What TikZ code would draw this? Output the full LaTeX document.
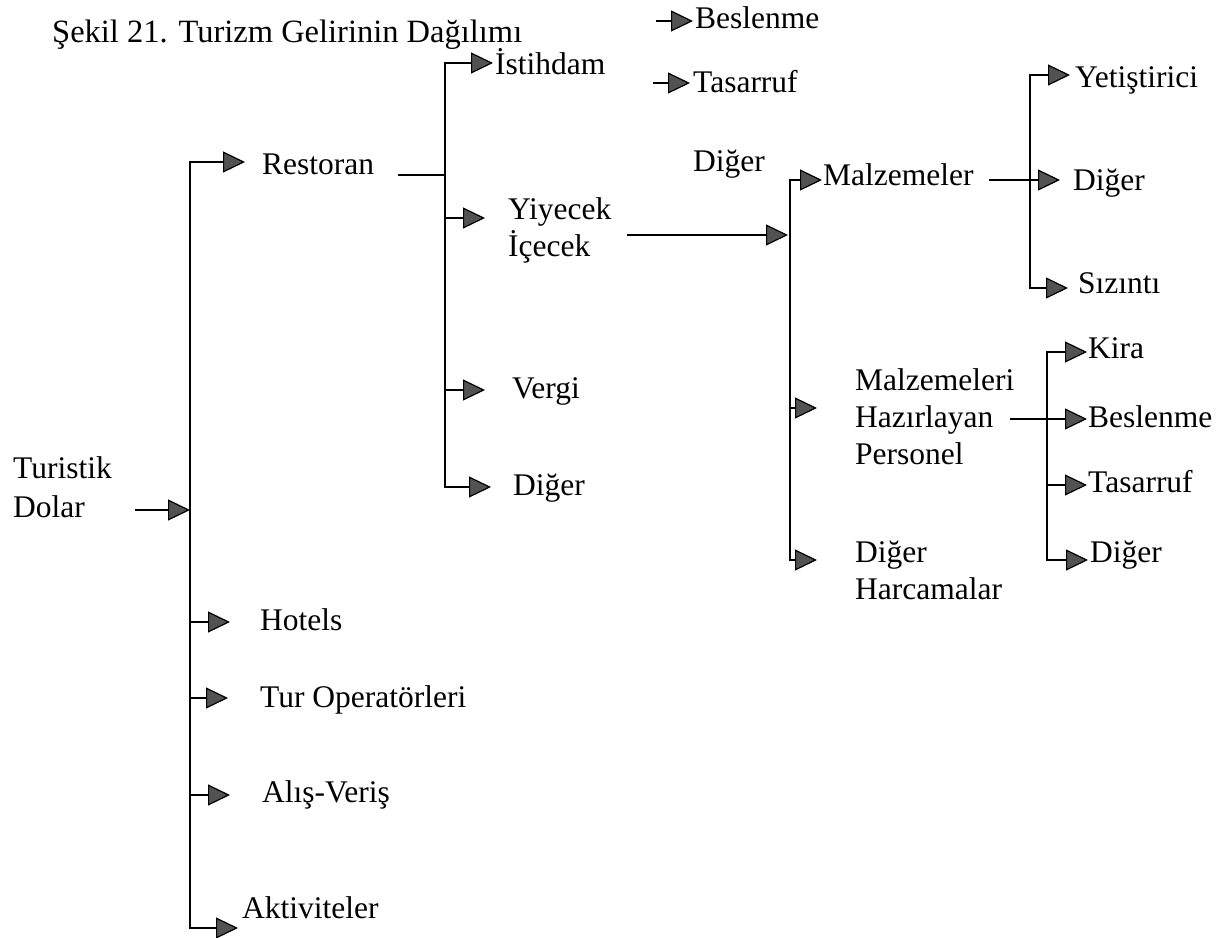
\documentclass[tikz,border=0pt]{standalone}
\usepackage{fontspec}
\setmainfont{Liberation Serif}
\usetikzlibrary{arrows.meta,calc}
\begin{document}
\begin{tikzpicture}[x=1pt,y=-1pt,
  lbl/.style={anchor=base west, inner sep=0pt, font=\fontsize{31.5}{37}\selectfont},
  conn/.style={line width=1.6pt, black},
  arr/.style={conn, -{Triangle[length=22pt,width=21pt,fill=black!68,line width=1.2pt]}},
]
\useasboundingbox (0,0) rectangle (1223,937);

% ---------- labels ----------
\node[lbl, font=\fontsize{32.5}{37}\selectfont] (title) at (52,42) {Şekil 21. Turizm Gelirinin Dağılımı};
\node[lbl] (dolar)    at (13,478)  {\begin{tabular}[t]{@{}l@{}}Turistik\\[2pt]Dolar\end{tabular}};
\node[lbl] (restoran) at (262,174) {Restoran};
\node[lbl] (hotels)   at (260,630) {Hotels};
\node[lbl] (tur)      at (260,707) {Tur Operatörleri};
\node[lbl] (alis)     at (262,802) {Alış-Veriş};
\node[lbl] (akt)      at (242,918) {Aktiviteler};

\node[lbl] (istihdam) at (495,74)  {İstihdam};
\node[lbl] (yiyecek)  at (508,219) {\begin{tabular}[t]{@{}l@{}}Yiyecek\\İçecek\end{tabular}};
\node[lbl] (vergi)    at (512,398) {Vergi};
\node[lbl] (digerA)   at (513,495) {Diğer};

\node[lbl] (beslA)    at (695,28)  {Beslenme};
\node[lbl] (tasA)     at (693,92)  {Tasarruf};
\node[lbl] (digerB)   at (693,171) {Diğer};

\node[lbl] (malz)     at (823,185) {Malzemeler};
\node[lbl] (pers)     at (855,390) {\begin{tabular}[t]{@{}l@{}}Malzemeleri\\Hazırlayan\\Personel\end{tabular}};
\node[lbl] (harc)     at (855,562) {\begin{tabular}[t]{@{}l@{}}Diğer\\Harcamalar\end{tabular}};

\node[lbl] (yetis)    at (1075,87)  {Yetiştirici};
\node[lbl] (digerC)   at (1073,190) {Diğer};
\node[lbl] (sizinti)  at (1078,293) {Sızıntı};

\node[lbl] (kira)     at (1088,358) {Kira};
\node[lbl] (beslB)    at (1088,427) {Beslenme};
\node[lbl] (tasB)     at (1088,492) {Tasarruf};
\node[lbl] (digerD)   at (1090,562) {Diğer};

% ---------- arrow tips, placed next to their labels ----------
\coordinate (t-restoran) at ($(restoran.base west)+(-17,-12)$);
\coordinate (t-hotels)   at ($(hotels.base west)+(-30,-8)$);
\coordinate (t-tur)      at ($(tur.base west)+(-32,-9)$);
\coordinate (t-alis)     at ($(alis.base west)+(-32,-7)$);
\coordinate (t-akt)      at ($(akt.base west)+(-4,10)$);
\coordinate (t-istihdam) at ($(istihdam.base west)+(-2,-11)$);
\coordinate (t-yiyecek)  at ($(yiyecek.base west)+(-23,-1)$);
\coordinate (t-vergi)    at ($(vergi.base west)+(-27,-8)$);
\coordinate (t-digerA)   at ($(digerA.base west)+(-22,-8)$);
\coordinate (t-beslA)    at ($(beslA.base west)+(-2,-7)$);
\coordinate (t-tasA)     at ($(tasA.base west)+(-3,-9)$);
\coordinate (t-malz)     at ($(malz.base west)+(-1,-5)$);
\coordinate (t-pers)     at ($(pers.base west)+(-38,18)$);
\coordinate (t-harc)     at ($(harc.base west)+(-38,-2)$);
\coordinate (t-yetis)    at ($(yetis.base west)+(-5,-12)$);
\coordinate (t-digerC)   at ($(digerC.base west)+(-13,-10)$);
\coordinate (t-sizinti)  at ($(sizinti.base west)+(-10,-5)$);
\coordinate (t-kira)     at ($(kira.base west)+(-1,-6)$);
\coordinate (t-beslB)    at ($(beslB.base west)+(-1,-8)$);
\coordinate (t-tasB)     at ($(tasB.base west)+(-1,-7)$);
\coordinate (t-digerD)   at ($(digerD.base west)+(-2,-2)$);

% ---------- outgoing line starts and junctions ----------
\coordinate (o-dolar)    at (135,510);
\coordinate (j-main)     at (190,510);
\coordinate (o-restoran) at ($(restoran.base east)+(24,1)$);
\coordinate (j-rest)     at (445,175);
\coordinate (o-yiyecek)  at (627,235);
\coordinate (j-yiy)      at (790,235);
\coordinate (o-malz)     at ($(malz.base east)+(15,-5)$);
\coordinate (j-malz)     at (1030,180);
\coordinate (o-pers)     at (1010,419);
\coordinate (j-pers)     at (1047,419);
\coordinate (o-beslA)    at (656,21);
\coordinate (o-tasA)     at (653,83);

% ---------- main trunk ----------
\draw[arr] (o-dolar) -- (j-main);
\draw[arr] (j-main) |- (t-restoran);
\draw[arr] (j-main) |- (t-akt);
\draw[arr] (j-main |- t-hotels) -- (t-hotels);
\draw[arr] (j-main |- t-tur) -- (t-tur);
\draw[arr] (j-main |- t-alis) -- (t-alis);

% ---------- Restoran branch ----------
\draw[conn] (o-restoran) -- (j-rest);
\draw[arr] (j-rest) |- (t-istihdam);
\draw[arr] (j-rest) |- (t-digerA);
\draw[arr] (j-rest |- t-yiyecek) -- (t-yiyecek);
\draw[arr] (j-rest |- t-vergi) -- (t-vergi);

% ---------- loose entries ----------
\draw[arr] (o-beslA) -- (t-beslA);
\draw[arr] (o-tasA) -- (t-tasA);

% ---------- Yiyecek / Icecek branch ----------
\draw[arr] (o-yiyecek) -- ($(j-yiy)+(-2,0)$);
\draw[arr] (j-yiy) |- (t-malz);
\draw[arr] (j-yiy) |- (t-harc);
\draw[arr] (j-yiy |- t-pers) -- (t-pers);

% ---------- Malzemeler branch ----------
\draw[arr] (o-malz) -- (t-digerC);
\draw[arr] (j-malz) |- (t-yetis);
\draw[arr] (j-malz) |- (t-sizinti);

% ---------- Personel branch ----------
\draw[arr] (o-pers) -- (t-beslB);
\draw[arr] (j-pers) |- (t-kira);
\draw[arr] (j-pers) |- (t-digerD);
\draw[arr] (j-pers |- t-tasB) -- (t-tasB);
\end{tikzpicture}
\end{document}
